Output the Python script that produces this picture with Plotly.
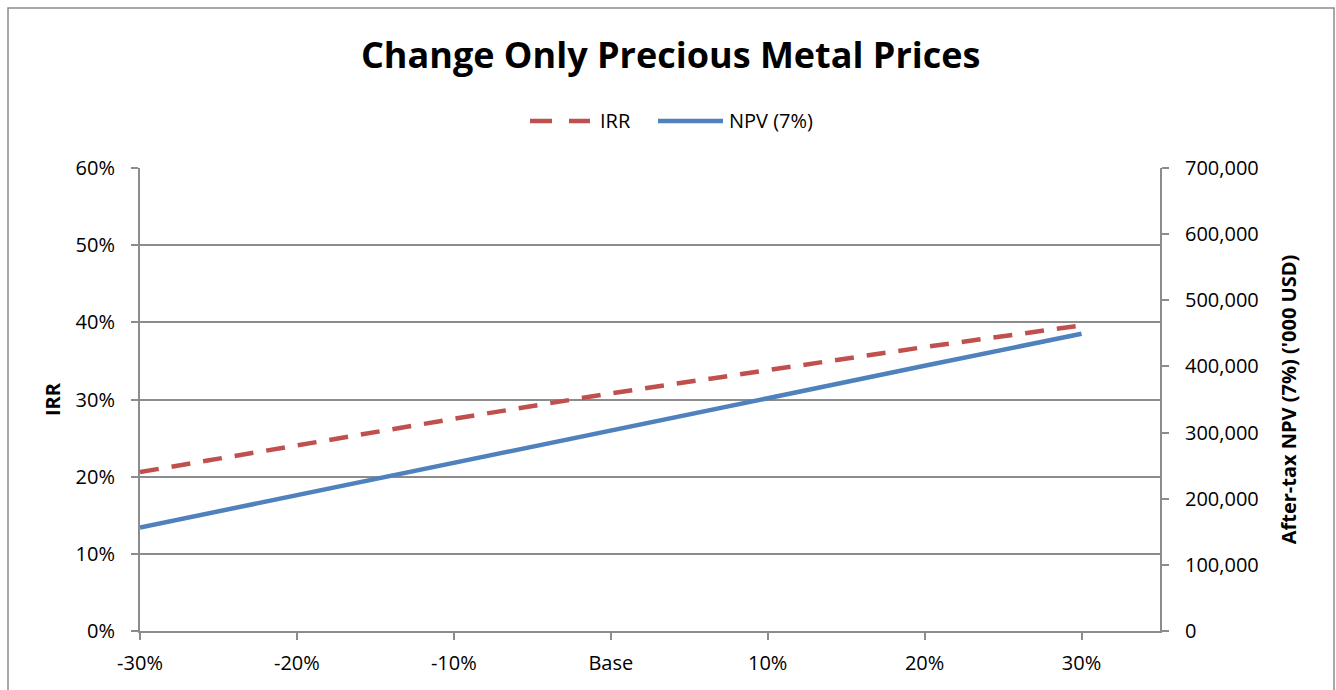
import plotly.graph_objects as go

# Sensitivity to precious metal prices
categories = ["-30%", "-20%", "-10%", "Base", "10%", "20%", "30%"]
irr = [0.206, 0.241, 0.275, 0.308, 0.338, 0.368, 0.396]
npv = [156500, 205000, 254000, 303000, 352000, 401000, 449500]
series_names = ["IRR", "NPV (7%)"]

x_pos = list(range(len(categories)))

FONT = "Open Sans"
GRID = "#8c8c8c"
RED = "#c0504d"
BLUE = "#4f81bd"
TICK_SIZE = 20

fig = go.Figure()
fig.add_trace(go.Scatter(
    x=x_pos, y=irr, name=series_names[0], mode="lines",
    line=dict(color=RED, width=4.5, dash="19px,13px"),
    yaxis="y", showlegend=False,
))
fig.add_trace(go.Scatter(
    x=x_pos, y=npv, name=series_names[1], mode="lines",
    line=dict(color=BLUE, width=4.5),
    yaxis="y2", showlegend=False,
))

L, R, T, B = 140, 1160, 168, 631
W, H = 1336, 690
pw, ph = R - L, B - T


def px(x):
    return (x - L) / pw


def py(y):
    return (B - y) / ph


fig.update_layout(
    width=W, height=H,
    margin=dict(l=L, r=W - R, t=T, b=H - B),
    paper_bgcolor="white", plot_bgcolor="white",
    font=dict(family=FONT, size=TICK_SIZE, color="black"),
    title=dict(
        text="<b>Change Only Precious Metal Prices</b>",
        x=0.502, xanchor="center", y=1 - 55 / H, yanchor="middle",
        font=dict(size=36, family=FONT),
    ),
    xaxis=dict(
        range=[0, 6.5],
        tickvals=x_pos, ticktext=categories,
        showgrid=False, zeroline=False,
        showline=True, linecolor=GRID, linewidth=2,
        ticks="outside", ticklen=7, tickcolor=GRID, tickwidth=2,
        ticklabelstandoff=6,
        tickfont=dict(size=TICK_SIZE),
    ),
    yaxis=dict(
        range=[0, 0.6], dtick=0.1, tickformat=".0%",
        showgrid=True, gridcolor=GRID, gridwidth=1.5,
        zeroline=False, showline=True, linecolor=GRID, linewidth=2,
        ticks="outside", ticklen=7, tickcolor=GRID, tickwidth=2,
        ticklabelstandoff=12,
        title=dict(text="<b>IRR</b>", font=dict(size=TICK_SIZE), standoff=10),
        tickfont=dict(size=TICK_SIZE),
    ),
    yaxis2=dict(
        range=[0, 700000], dtick=100000, tickformat=",d",
        overlaying="y", side="right",
        showgrid=False, zeroline=False,
        showline=True, linecolor=GRID, linewidth=2,
        ticks="outside", ticklen=7, tickcolor=GRID, tickwidth=2,
        ticklabelstandoff=12,
        title=dict(text="<b>After-tax NPV (7%) ('000 USD)</b>", font=dict(size=TICK_SIZE), standoff=24),
        tickfont=dict(size=TICK_SIZE),
    ),
)

# Legend: line samples and labels
legend_y = py(121)
fig.add_shape(type="line", xref="paper", yref="paper",
              x0=px(530), x1=px(590), y0=legend_y, y1=legend_y,
              line=dict(color=RED, width=4.5, dash="22px,17px"))
fig.add_shape(type="line", xref="paper", yref="paper",
              x0=px(658), x1=px(723), y0=legend_y, y1=legend_y,
              line=dict(color=BLUE, width=4.5))
fig.add_annotation(xref="paper", yref="paper", x=px(598), y=legend_y,
                   text=series_names[0], showarrow=False,
                   xanchor="left", yanchor="middle", font=dict(size=TICK_SIZE))
fig.add_annotation(xref="paper", yref="paper", x=px(727), y=legend_y,
                   text=series_names[1], showarrow=False,
                   xanchor="left", yanchor="middle", font=dict(size=TICK_SIZE))

# Chart-area border
fig.add_shape(
    type="rect", xref="paper", yref="paper",
    x0=px(8), x1=px(1334), y0=py(700), y1=py(8),
    line=dict(color=GRID, width=1.5), fillcolor="rgba(0,0,0,0)",
    layer="below",
)

fig.write_html("out.html")
